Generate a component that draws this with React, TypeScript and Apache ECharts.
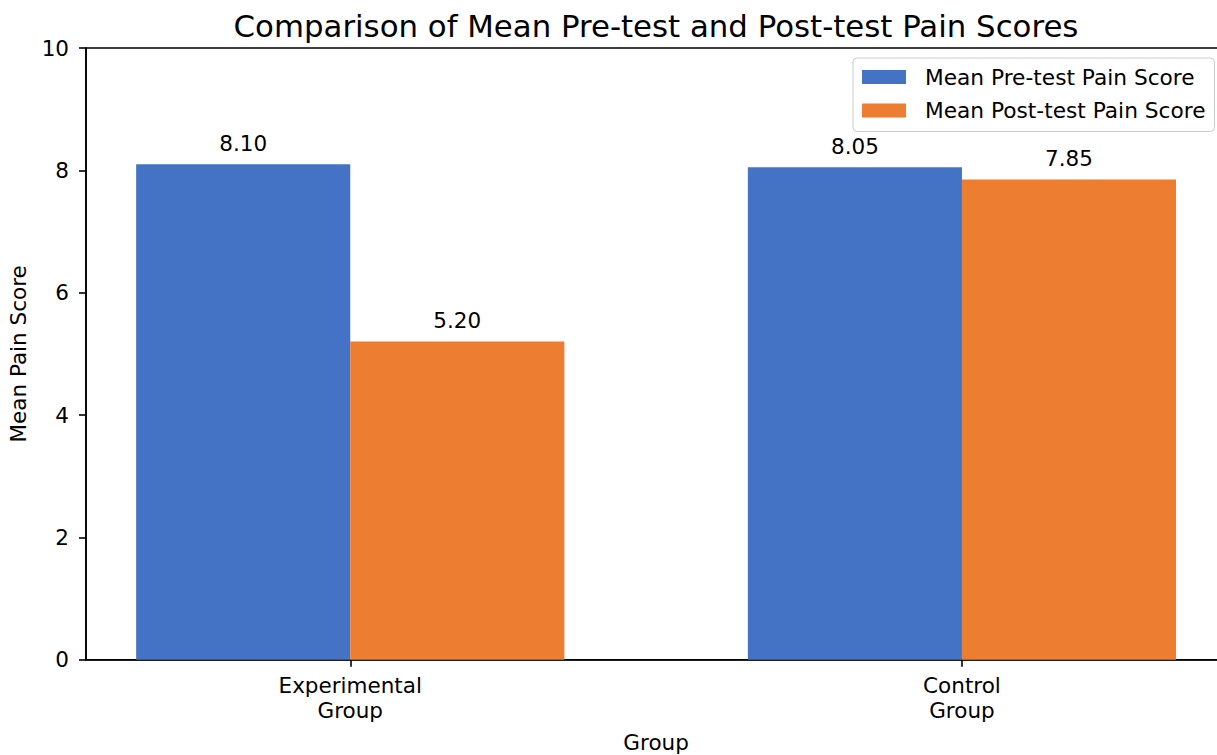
import React, { useEffect, useRef } from "react";
import * as echarts from "echarts";

const categories = ["Experimental\nGroup", "Control\nGroup"];
const preScores = [8.1, 8.05];
const postScores = [5.2, 7.85];
const seriesNames = ["Mean Pre-test Pain Score", "Mean Post-test Pain Score"];
const yTicks = [0, 2, 4, 6, 8, 10];

const FONT = "DejaVu Sans";
const BLUE = "#4472C4";
const ORANGE = "#ED7D31";
const BAR_W = 0.35;

function makeRender(offset: number, color: string) {
  return (params: any, api: any) => {
    const idx = api.value(0);
    const v = api.value(1);
    const p0 = api.coord([idx + offset - BAR_W / 2, v]);
    const p1 = api.coord([idx + offset + BAR_W / 2, 0]);
    return {
      type: "group",
      children: [
        {
          type: "rect",
          shape: { x: p0[0], y: p0[1], width: p1[0] - p0[0], height: p1[1] - p0[1] },
          style: { fill: color },
        },
        {
          type: "text",
          x: (p0[0] + p1[0]) / 2,
          y: p0[1] - 21,
          style: {
            text: Number(v).toFixed(2),
            fill: "#000",
            fontSize: 21.5,
            fontFamily: FONT,
            align: "center",
            verticalAlign: "middle",
          },
        },
      ],
    };
  };
}

export default function App() {
  const ref = useRef<HTMLDivElement>(null);
  useEffect(() => {
    document.body.style.margin = "0";
    document.body.style.overflow = "hidden";
    const chart = echarts.init(ref.current!, undefined, { renderer: "svg" });
    chart.setOption({
      animation: false,
      backgroundColor: "#fff",
      textStyle: { fontFamily: FONT },
      title: {
        text: "Comparison of Mean Pre-test and Post-test Pain Scores",
        left: 651,
        textAlign: "center",
        top: 5,
        textStyle: { fontFamily: FONT, fontSize: 30.8, fontWeight: "normal", color: "#000" },
      },
      legend: {
        orient: "vertical",
        left: 853,
        top: 58,
        padding: [8, 9, 10, 9],
        itemWidth: 44,
        itemHeight: 14,
        itemGap: 11.5,
        icon: "rect",
        borderColor: "#cccccc",
        borderWidth: 1,
        borderRadius: 4,
        backgroundColor: "rgba(255,255,255,0.8)",
        textStyle: { fontFamily: FONT, fontSize: 21.7, color: "#000", padding: [0, 0, 0, 14] },
        data: seriesNames,
      },
      grid: {
        left: 86,
        top: 48,
        width: 1140.2,
        height: 611.7,
        containLabel: false,
        outerBoundsMode: "none",
        show: true,
        borderColor: "#000",
        borderWidth: 1.6,
        backgroundColor: "transparent",
      },
      xAxis: {
        type: "value",
        min: -0.432,
        max: 1.432,
        name: "Group",
        nameLocation: "middle",
        nameGap: 72,
        nameTextStyle: { fontFamily: FONT, fontSize: 21.5, color: "#000" },
        axisLine: { show: true, onZero: false, lineStyle: { color: "#000", width: 1.6 } },
        axisTick: { show: true, length: 7, customValues: [0, 1], lineStyle: { color: "#000", width: 1.6 } },
        axisLabel: {
          customValues: [0, 1],
          margin: 13,
          fontFamily: FONT,
          fontSize: 21.5,
          lineHeight: 25,
          color: "#000",
          formatter: (v: number) => {
            const i = Math.round(v);
            return Math.abs(v - i) < 1e-6 && categories[i] ? categories[i] : "";
          },
        },
        splitLine: { show: false },
      },
      yAxis: {
        type: "value",
        min: 0,
        max: 10,
        interval: 2,
        name: "Mean Pain Score",
        nameLocation: "middle",
        nameGap: 57,
        nameTextStyle: { fontFamily: FONT, fontSize: 21.5, color: "#000" },
        axisLine: { show: true, onZero: false, lineStyle: { color: "#000", width: 1.6 } },
        axisTick: { show: true, length: 7, lineStyle: { color: "#000", width: 1.6 } },
        axisLabel: {
          margin: 17,
          fontFamily: FONT,
          fontSize: 21.5,
          color: "#000",
          formatter: (v: number) => (yTicks.includes(v) ? String(v) : ""),
        },
        splitLine: { show: false },
      },
      series: [
        {
          name: seriesNames[0],
          type: "custom",
          itemStyle: { color: BLUE },
          data: preScores.map((v, i) => [i, v]),
          encode: { x: 0, y: 1 },
          renderItem: makeRender(-BAR_W / 2, BLUE),
          z: 2,
        },
        {
          name: seriesNames[1],
          type: "custom",
          itemStyle: { color: ORANGE },
          data: postScores.map((v, i) => [i, v]),
          encode: { x: 0, y: 1 },
          renderItem: makeRender(BAR_W / 2, ORANGE),
          z: 2,
        },
      ],
    });
    return () => chart.dispose();
  }, []);
  return (
    <div style={{ width: 1217, height: 755, overflow: "hidden" }}>
      <div ref={ref} style={{ width: 1260, height: 755 }} />
    </div>
  );
}
